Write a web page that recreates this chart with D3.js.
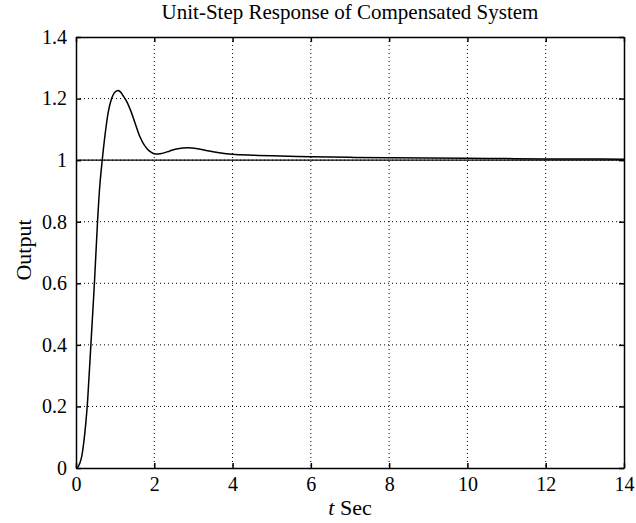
<!DOCTYPE html>
<html>
<head>
<meta charset="utf-8">
<script src="https://cdn.jsdelivr.net/npm/d3@7"></script>
<style>
  body { margin: 0; background: #fff; }
  text { font-family: "Liberation Serif", "DejaVu Serif", serif; fill: #000; }
</style>
</head>
<body>
<div id="chart"></div>
<script>
// step response
var timeVals = [0, 0.05, 0.1, 0.15, 0.2, 0.25, 0.3, 0.38, 0.47, 0.55, 0.61, 0.67, 0.75, 0.83, 0.91, 0.97,
  1.03, 1.08, 1.14, 1.2, 1.29, 1.4, 1.51, 1.63, 1.75, 1.87, 2.02, 2.2, 2.4, 2.6, 2.87, 3.1, 3.4,
  3.7, 4.0, 4.5, 5, 6, 7, 8, 9, 10, 11, 12, 13, 14];
var outputVals = [0, 0.004, 0.016, 0.04, 0.085, 0.145, 0.225, 0.4, 0.6, 0.8, 0.92, 1.0, 1.09, 1.16, 1.2, 1.217,
  1.224, 1.226, 1.221, 1.21, 1.192, 1.16, 1.12, 1.077, 1.048, 1.03, 1.02, 1.022, 1.03, 1.037, 1.04, 1.037, 1.03,
  1.023, 1.019, 1.016, 1.014, 1.011, 1.009, 1.008, 1.007, 1.006, 1.005, 1.004, 1.004, 1.003];
var refLevel = 1;
var xTicks = [0, 2, 4, 6, 8, 10, 12, 14];
var yTicks = [0, 0.2, 0.4, 0.6, 0.8, 1, 1.2, 1.4];

var margin = { top: 37, right: 12, bottom: 55, left: 76 };
var width = 636 - margin.left - margin.right;
var height = 523 - margin.top - margin.bottom;

var svg = d3.select("#chart").append("svg")
    .attr("width", 636)
    .attr("height", 523);

var g = svg.append("g")
    .attr("transform", "translate(" + margin.left + "," + margin.top + ")");

var x = d3.scaleLinear().domain([0, 14]).range([0, width]);
var y = d3.scaleLinear().domain([0, 1.4]).range([height, 0]);

// dotted grid
g.append("g").selectAll("line")
    .data(xTicks.slice(1, -1))
    .enter().append("line")
    .attr("x1", d => x(d)).attr("x2", d => x(d))
    .attr("y1", 0).attr("y2", height)
    .attr("stroke", "#000").attr("stroke-width", 1)
    .attr("stroke-dasharray", "1,3");

g.append("g").selectAll("line")
    .data(yTicks.slice(1, -1))
    .enter().append("line")
    .attr("y1", d => y(d)).attr("y2", d => y(d))
    .attr("x1", 0).attr("x2", width)
    .attr("stroke", "#000").attr("stroke-width", 1)
    .attr("stroke-dasharray", "1,3");

// axes, ticks pointing inward on all sides
var fmt = d => String(d);
g.append("g").attr("transform", `translate(0,${height})`)
    .call(d3.axisBottom(x).tickValues(xTicks).tickFormat(fmt).tickSizeInner(-5).tickSizeOuter(0).tickPadding(9));
g.append("g")
    .call(d3.axisLeft(y).tickValues(yTicks).tickFormat(fmt).tickSizeInner(-5).tickSizeOuter(0).tickPadding(9));
g.append("g")
    .call(d3.axisTop(x).tickValues(xTicks).tickFormat("").tickSizeInner(-5).tickSizeOuter(0));
g.append("g").attr("transform", `translate(${width},0)`)
    .call(d3.axisRight(y).tickValues(yTicks).tickFormat("").tickSizeInner(-5).tickSizeOuter(0));

g.selectAll("g").attr("font-family", "Liberation Serif, serif").attr("font-size", 20);
g.selectAll(".domain").attr("stroke", "#000").attr("stroke-width", 1.5);
g.selectAll(".tick line").attr("stroke", "#000").attr("stroke-width", 1.5);

// reference line at 1
g.append("line")
    .attr("x1", x(0)).attr("x2", x(14))
    .attr("y1", y(refLevel)).attr("y2", y(refLevel))
    .attr("stroke", "#000").attr("stroke-width", 1.3);

// response curve
var line = d3.line()
    .x((d, i) => x(timeVals[i]))
    .y(d => y(d))
    .curve(d3.curveCatmullRom.alpha(0.5));

g.append("path")
    .datum(outputVals)
    .attr("fill", "none")
    .attr("stroke", "#000")
    .attr("stroke-width", 1.5)
    .attr("d", line);

// titles
svg.append("text")
    .attr("x", margin.left + width / 2)
    .attr("y", 19)
    .attr("text-anchor", "middle")
    .style("font-size", "21px")
    .text("Unit-Step Response of Compensated System");

var xt = svg.append("text")
    .attr("x", margin.left + width / 2)
    .attr("y", 515)
    .attr("text-anchor", "middle")
    .style("font-size", "22px");
xt.append("tspan").style("font-style", "italic").text("t");
xt.append("tspan").text(" Sec");

svg.append("text")
    .attr("transform", "translate(31,250) rotate(-90)")
    .attr("text-anchor", "middle")
    .style("font-size", "22px")
    .text("Output");
</script>
</body>
</html>
